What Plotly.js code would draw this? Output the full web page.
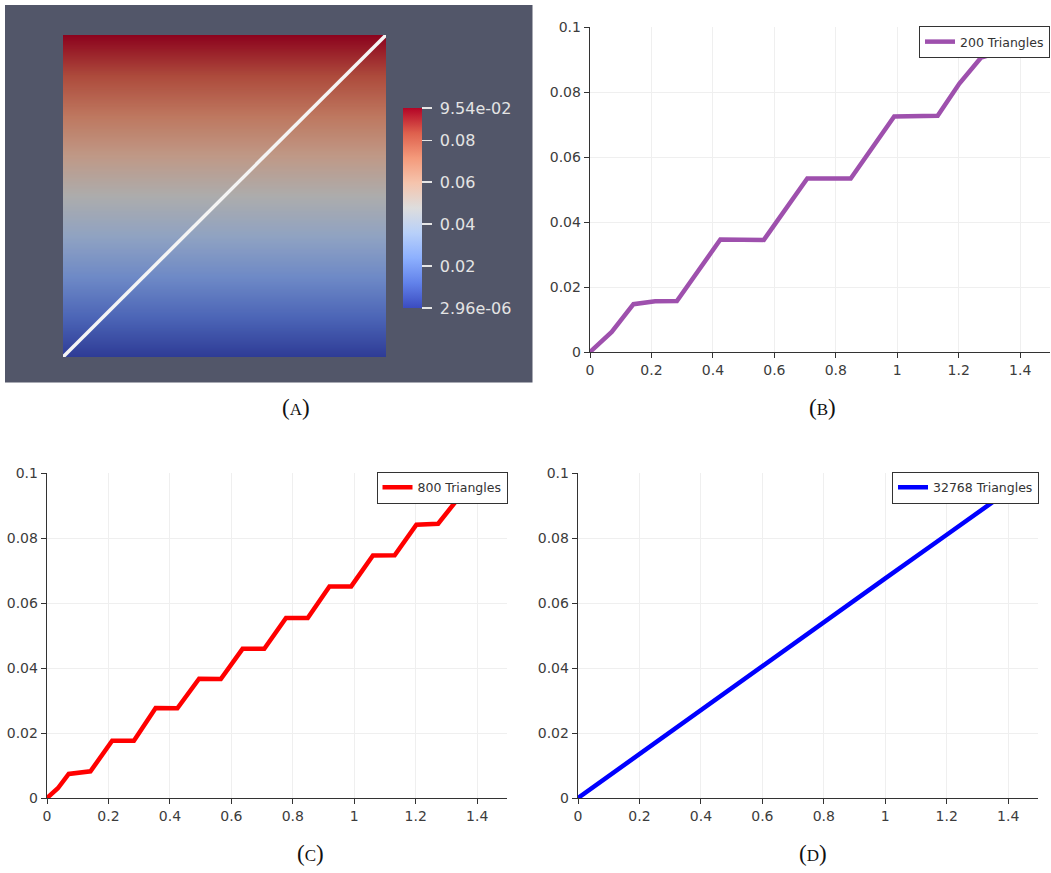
<!DOCTYPE html>
<html>
<head>
<meta charset="utf-8">
<script src="https://cdn.plot.ly/plotly-3.0.1.min.js"></script>
<style>html,body{margin:0;padding:0;background:#fff;}#chart{width:1051px;height:873px;}</style>
</head>
<body>
<div id="chart"></div>
<script>
// ---------- data ----------
// (A) scalar field over the unit square (varies with y)
const fieldX = [0, 1];
const fieldY = [0, 0.25, 0.5, 0.75, 1];
const fieldValues = [2.96e-6, 0.0239, 0.0477, 0.0716, 0.0954];
const fieldMin = 2.96e-6;
const fieldMax = 0.0954;
const colorbarTickVals = [2.96e-6, 0.02, 0.04, 0.06, 0.08, 0.0954];
const colorbarTickText = ["2.96e-06", "0.02", "0.04", "0.06", "0.08", "9.54e-02"];
// probe line across the square
const probeX = [0, 1];
const probeY = [0, 1];

// (B) 200 triangles
const b_x = [0, 0.0707, 0.1414, 0.2121, 0.2828, 0.4243, 0.5657, 0.7071, 0.8485, 0.9899, 1.1314, 1.2021, 1.2728, 1.3435, 1.4142];
const b_y = [0, 0.0062, 0.0147, 0.0156, 0.0157, 0.0346, 0.0345, 0.0534, 0.0534, 0.0725, 0.0727, 0.0826, 0.0906, 0.0926, 0.0942];

// (C) 800 triangles
const c_x = [0, 0.0354, 0.0707, 0.1414, 0.2121, 0.2828, 0.3536, 0.4243, 0.4950, 0.5657, 0.6364, 0.7071, 0.7778, 0.8485, 0.9192, 0.9899, 1.0607, 1.1314, 1.2021, 1.2728, 1.3435, 1.4142];
const c_y = [0, 0.0030, 0.0074, 0.0082, 0.0176, 0.0176, 0.0277, 0.0276, 0.0367, 0.0366, 0.0459, 0.0459, 0.0554, 0.0554, 0.0651, 0.0651, 0.0746, 0.0747, 0.0841, 0.0844, 0.0928, 0.0960];

// (D) 32768 triangles
const d_x = [0, 0.2, 0.4, 0.6, 0.8, 1.0, 1.2, 1.4142];
const d_y = [0, 0.0136, 0.0272, 0.0406, 0.0541, 0.0676, 0.0810, 0.0954];

const seriesNames = ["200 Triangles", "800 Triangles", "32768 Triangles"];
const panelLabels = ["A", "B", "C", "D"];

// ---------- helpers ----------
const W = 1051, H = 873;
const px = v => v / W;
const py = v => (H - v) / H;

const coolWarm = [
  [0.0, 'rgb(59,76,192)'],
  [0.125, 'rgb(98,130,234)'],
  [0.25, 'rgb(141,176,254)'],
  [0.375, 'rgb(184,208,249)'],
  [0.5, 'rgb(221,221,221)'],
  [0.625, 'rgb(245,196,173)'],
  [0.75, 'rgb(244,154,123)'],
  [0.875, 'rgb(222,96,77)'],
  [1.0, 'rgb(180,4,38)']
];

const fieldZ = fieldValues.map(v => fieldX.map(() => v));

const tickFont = {family: 'DejaVu Sans, sans-serif', size: 14, color: '#3c3c3c'};

function chartAxes(xd, yd) {
  return {
    x: {
      domain: xd, range: [0, 1.497], tickvals: [0, 0.2, 0.4, 0.6, 0.8, 1, 1.2, 1.4],
      ticktext: ['0', '0.2', '0.4', '0.6', '0.8', '1', '1.2', '1.4'],
      showline: true, linecolor: '#333', linewidth: 1.3,
      ticks: 'outside', ticklen: 5, tickcolor: '#333', tickwidth: 1,
      showgrid: true, gridcolor: '#efefef', gridwidth: 1, zeroline: false,
      tickfont: tickFont, fixedrange: true
    },
    y: {
      domain: yd, range: [0, 0.1], tickvals: [0, 0.02, 0.04, 0.06, 0.08, 0.1],
      ticktext: ['0', '0.02', '0.04', '0.06', '0.08', '0.1'],
      showline: true, linecolor: '#333', linewidth: 1.3,
      ticks: 'outside', ticklen: 5, tickcolor: '#333', tickwidth: 1,
      showgrid: true, gridcolor: '#efefef', gridwidth: 1, zeroline: false,
      tickfont: tickFont, fixedrange: true
    }
  };
}

const axB = chartAxes([px(590), px(1050)], [py(352), py(27)]);
const axC = chartAxes([px(47), px(507)], [py(798), py(473)]);
const axD = chartAxes([px(578), px(1038)], [py(798), py(473)]);

const traces = [
  {
    type: 'heatmap', x: fieldX, y: fieldY, z: fieldZ, xaxis: 'x', yaxis: 'y',
    colorscale: coolWarm, zmin: fieldMin, zmax: fieldMax, zsmooth: 'best',
    opacity: 0.78, showscale: true, hoverinfo: 'skip',
    colorbar: {
      x: px(403), xanchor: 'left', xpad: 0,
      y: py(208), yanchor: 'middle', ypad: 0,
      len: 200, lenmode: 'pixels', thickness: 19, outlinewidth: 0,
      ticks: 'outside', ticklen: 10, tickwidth: 1.5, tickcolor: '#e6e6e6',
      tickvals: colorbarTickVals, ticktext: colorbarTickText.map(t => '\u00a0' + t),
      tickfont: {family: 'DejaVu Sans, sans-serif', size: 16, color: '#e4e4e4'}
    }
  },
  {
    type: 'scatter', mode: 'lines', x: probeX, y: probeY, xaxis: 'x', yaxis: 'y',
    line: {color: '#f4f4f4', width: 3.5}, showlegend: false, cliponaxis: false, hoverinfo: 'skip'
  },
  {
    type: 'scatter', mode: 'lines', x: b_x, y: b_y, xaxis: 'x2', yaxis: 'y2', name: seriesNames[0],
    line: {color: '#9e50ad', width: 4.5}, legend: 'legend', showlegend: true
  },
  {
    type: 'scatter', mode: 'lines', x: c_x, y: c_y, xaxis: 'x3', yaxis: 'y3', name: seriesNames[1],
    line: {color: '#ff0000', width: 4.5}, legend: 'legend2', showlegend: true
  },
  {
    type: 'scatter', mode: 'lines', x: d_x, y: d_y, xaxis: 'x4', yaxis: 'y4', name: seriesNames[2],
    line: {color: '#0000ff', width: 4.5}, legend: 'legend3', showlegend: true
  }
];

const legendBase = {
  xanchor: 'right', yanchor: 'top', bgcolor: '#ffffff', bordercolor: '#333', borderwidth: 1,
  font: {family: 'DejaVu Sans, sans-serif', size: 12.5, color: '#333'}, tracegroupgap: 0
};

const labelFont = {family: 'Liberation Serif, DejaVu Serif, serif', size: 23, color: '#111'};
function label(t, x, y) {
  return {
    text: '(<span style="font-size:17px">' + t + '</span>)', x: x, y: y, xref: 'paper', yref: 'paper',
    showarrow: false, xanchor: 'center', yanchor: 'middle', font: labelFont
  };
}

const layout = {
  width: W, height: H, autosize: false,
  margin: {l: 0, r: 0, t: 0, b: 0, pad: 0},
  paper_bgcolor: '#ffffff', plot_bgcolor: 'rgba(0,0,0,0)',
  showlegend: true,
  xaxis: {domain: [px(63), px(386)], range: [0, 1], visible: false, fixedrange: true},
  yaxis: {domain: [py(357), py(35)], range: [0, 1], visible: false, fixedrange: true},
  xaxis2: Object.assign({anchor: 'y2'}, axB.x),
  yaxis2: Object.assign({anchor: 'x2'}, axB.y),
  xaxis3: Object.assign({anchor: 'y3'}, axC.x),
  yaxis3: Object.assign({anchor: 'x3'}, axC.y),
  xaxis4: Object.assign({anchor: 'y4'}, axD.x),
  yaxis4: Object.assign({anchor: 'x4'}, axD.y),
  legend: Object.assign({x: px(1050), y: py(26)}, legendBase),
  legend2: Object.assign({x: px(507.5), y: py(471.5)}, legendBase),
  legend3: Object.assign({x: px(1039), y: py(471.5)}, legendBase),
  shapes: [
    {type: 'rect', xref: 'paper', yref: 'paper', x0: px(5), x1: px(532.5), y0: py(382.5), y1: py(5),
     fillcolor: '#525669', line: {width: 0}, layer: 'below'},
    {type: 'rect', xref: 'x', yref: 'y', x0: 0, x1: 1, y0: 0, y1: 1,
     fillcolor: '#000000', line: {width: 0}, layer: 'below'}
  ],
  annotations: [
    label(panelLabels[0], px(296), py(407)),
    label(panelLabels[1], px(822), py(407)),
    label(panelLabels[2], px(310), py(853)),
    label(panelLabels[3], px(813), py(853))
  ]
};

Plotly.newPlot('chart', traces, layout, {displayModeBar: false, staticPlot: true});
</script>
</body>
</html>
